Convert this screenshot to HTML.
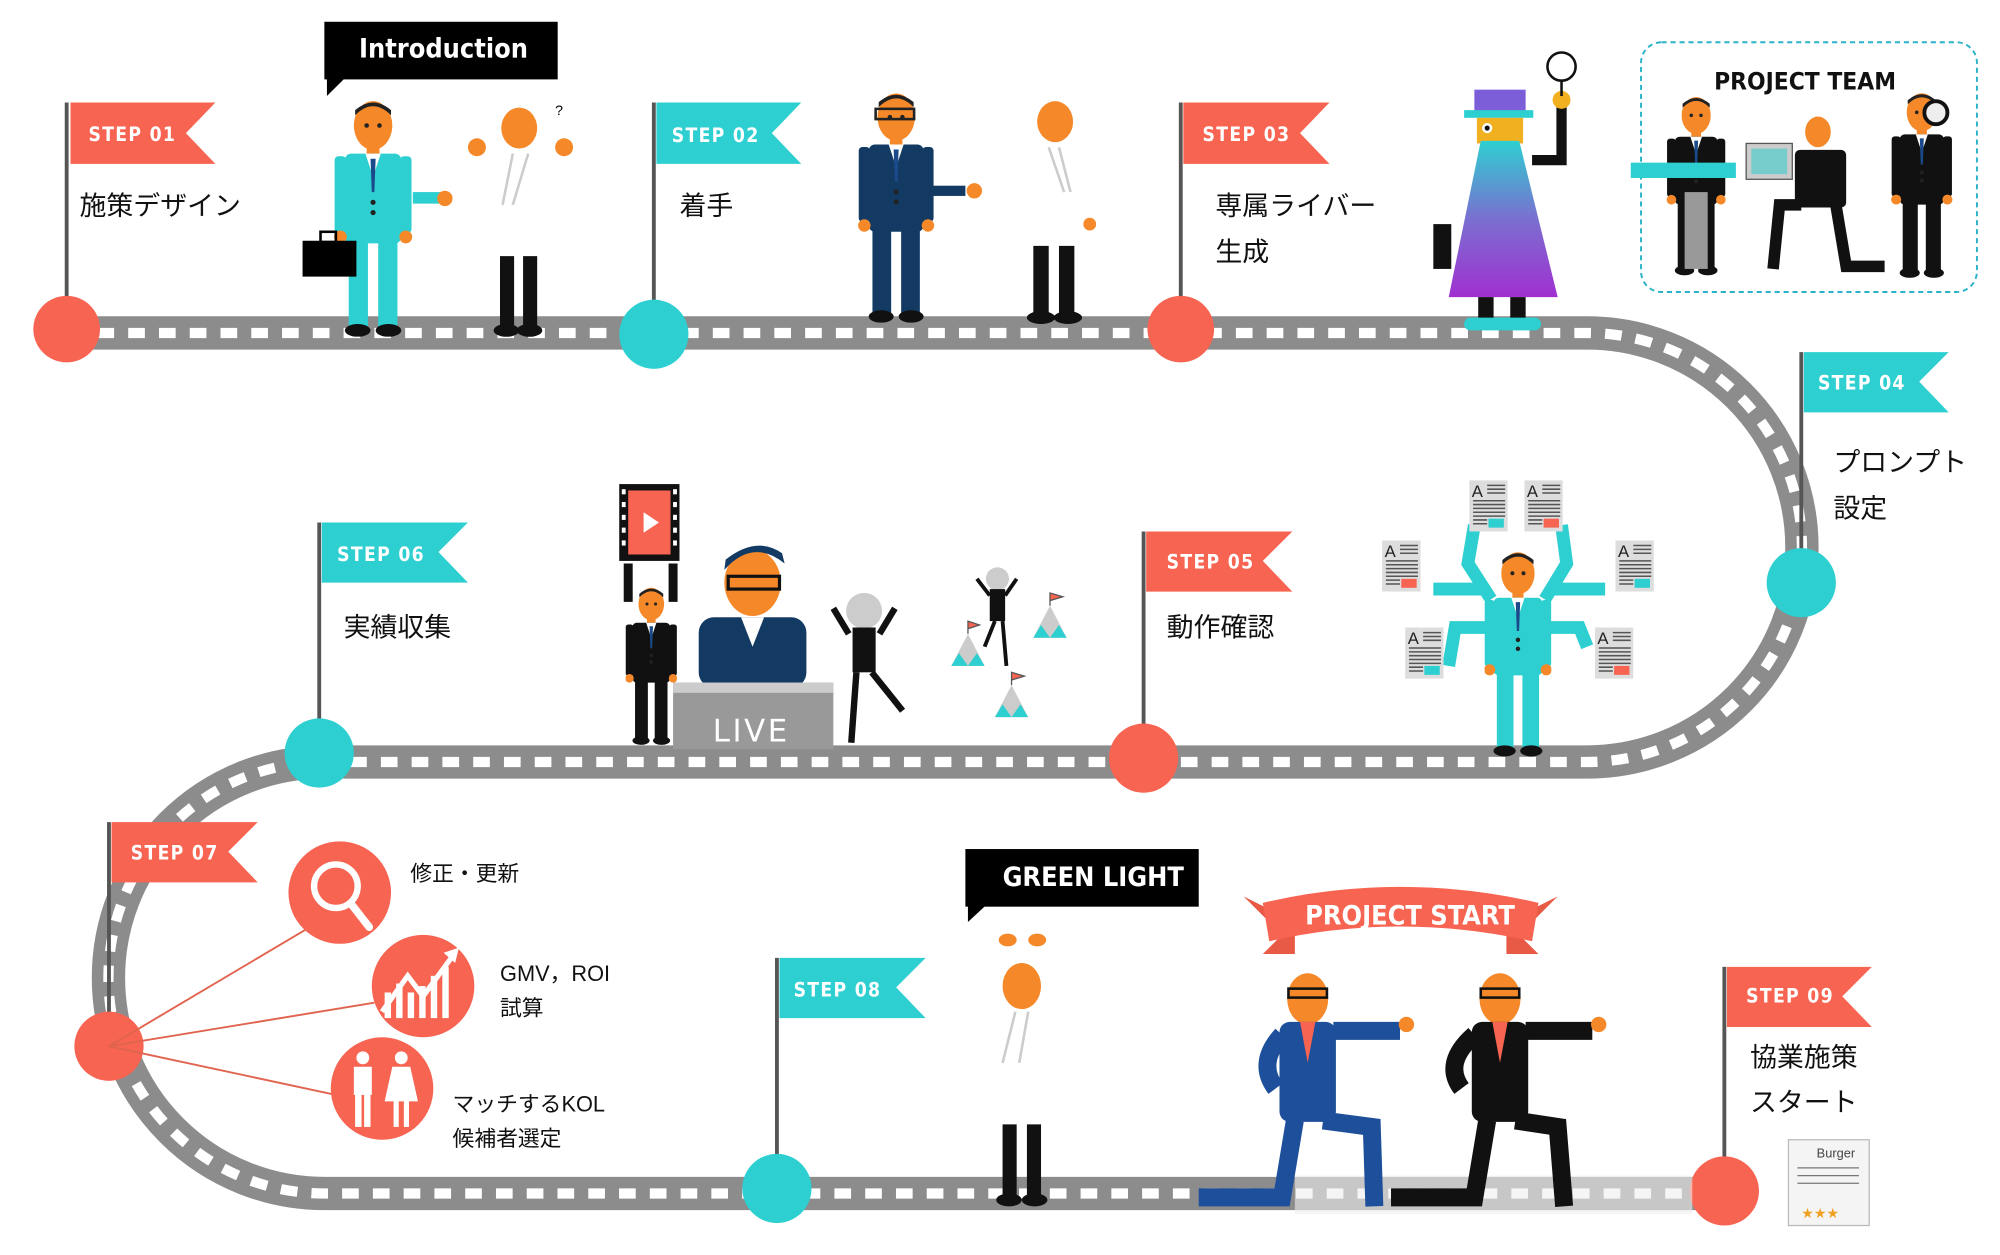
<!DOCTYPE html>
<html><head><meta charset="utf-8">
<style>
html,body{margin:0;padding:0;background:#fff;}
svg{display:block;}
.st{font-family:"DejaVu Sans Condensed","DejaVu Sans",sans-serif;font-weight:bold;font-size:15px;fill:#fff;letter-spacing:1px;}
.jp{font-family:"Liberation Sans","Noto Sans CJK JP",sans-serif;font-size:21px;fill:#111;}
.js{font-family:"Liberation Sans","Noto Sans CJK JP",sans-serif;font-size:17px;fill:#111;}
.bb{font-family:"DejaVu Sans Condensed","DejaVu Sans",sans-serif;font-weight:bold;font-size:21px;fill:#fff;}
</style></head>
<body>
<svg width="2000" height="1255" viewBox="0 0 1560 980" preserveAspectRatio="none" xmlns="http://www.w3.org/2000/svg">
<defs>
<linearGradient id="cape" x1="0" y1="0" x2="0" y2="1"><stop offset="0" stop-color="#2ecfd1"/><stop offset="0.5" stop-color="#7a6fd0"/><stop offset="1" stop-color="#a030d0"/></linearGradient>
<symbol id="p" viewBox="0 0 60 185">
<rect x="25" y="34" width="10" height="10" fill="#f5892a"/>
<ellipse cx="30" cy="20" rx="15" ry="19" fill="#f5892a"/>
<path d="M16 12 Q30 -2 44 12 L44 8 Q30 -4 16 8Z" fill="#222"/>
<circle cx="25" cy="20" r="1.8" fill="#222"/><circle cx="35" cy="20" r="1.8" fill="#222"/>
<rect x="8" y="42" width="44" height="70" rx="5" fill="currentColor"/>
<path d="M24 42 L30 60 L36 42Z" fill="#fff"/>
<path d="M28 46 L32 46 L31 72 L29 72Z" fill="#1b4a8a"/>
<circle cx="30" cy="80" r="2" fill="#222"/><circle cx="30" cy="88" r="2" fill="#222"/>
<rect x="0" y="44" width="9" height="60" rx="3" fill="currentColor"/>
<rect x="51" y="44" width="9" height="60" rx="3" fill="currentColor"/>
<circle cx="4.5" cy="107" r="5" fill="#f5892a"/><circle cx="55.5" cy="107" r="5" fill="#f5892a"/>
<rect x="11" y="108" width="15" height="70" fill="currentColor"/>
<rect x="34" y="108" width="15" height="70" fill="currentColor"/>
<ellipse cx="18" cy="180" rx="10" ry="5" fill="#111"/><ellipse cx="42" cy="180" rx="10" ry="5" fill="#111"/>
</symbol>
<symbol id="doc" viewBox="0 0 30 40">
<rect width="30" height="40" fill="#ddd"/><text x="2" y="13" font-family="Liberation Sans" font-size="13" fill="#222">A</text>
<g stroke="#555" stroke-width="1.2"><path d="M14 4H28M14 7H28M14 10H28M3 16H28M3 19H28M3 22H28M3 25H28M3 28H28M3 31H14M3 34H14"/></g>
<rect x="15" y="30" width="12" height="7" fill="#2ecfd1"/>
</symbol>
<symbol id="docr" viewBox="0 0 30 40">
<rect width="30" height="40" fill="#ddd"/><text x="2" y="13" font-family="Liberation Sans" font-size="13" fill="#222">A</text>
<g stroke="#555" stroke-width="1.2"><path d="M14 4H28M14 7H28M14 10H28M3 16H28M3 19H28M3 22H28M3 25H28M3 28H28M3 31H14M3 34H14"/></g>
<rect x="15" y="30" width="12" height="7" fill="#f76451"/>
</symbol>
</defs>

<!-- road -->
<path d="M52 260 H1238 A167.5 167.5 0 0 1 1238 595 H253 A168.5 168.5 0 0 0 253 932 H1345" fill="none" stroke="#8c8c8c" stroke-width="26"/>
<path d="M52 260 H1238 A167.5 167.5 0 0 1 1238 595 H253 A168.5 168.5 0 0 0 253 932 H1345" fill="none" stroke="#fff" stroke-width="8" stroke-dasharray="13 11"/>

<!-- flags -->
<g stroke="#555" stroke-width="3">
<line x1="52" y1="80" x2="52" y2="257"/><line x1="510" y1="80" x2="510" y2="261"/>
<line x1="921" y1="80" x2="921" y2="257"/><line x1="1405" y1="275" x2="1405" y2="455"/>
<line x1="892" y1="415" x2="892" y2="592"/><line x1="249" y1="408" x2="249" y2="588"/>
<line x1="85" y1="642" x2="85" y2="817"/><line x1="606" y1="748" x2="606" y2="928"/>
<line x1="1345" y1="755" x2="1345" y2="930"/>
</g>
<g>
<path d="M55 80H168L145 104L168 128H55Z" fill="#f76451"/><text class="st" x="69" y="110">STEP 01</text>
<path d="M512 80H625L602 104L625 128H512Z" fill="#2ecfd1"/><text class="st" x="524" y="111">STEP 02</text>
<path d="M923 80H1037L1014 104L1037 128H923Z" fill="#f76451"/><text class="st" x="938" y="110">STEP 03</text>
<path d="M1407 275H1520L1497 298L1520 322H1407Z" fill="#2ecfd1"/><text class="st" x="1418" y="304">STEP 04</text>
<path d="M894 415H1008L985 438L1008 462H894Z" fill="#f76451"/><text class="st" x="910" y="444">STEP 05</text>
<path d="M251 408H365L342 431L365 455H251Z" fill="#2ecfd1"/><text class="st" x="263" y="438">STEP 06</text>
<path d="M87 642H201L178 665L201 689H87Z" fill="#f76451"/><text class="st" x="102" y="671">STEP 07</text>
<path d="M608 748H722L699 771L722 795H608Z" fill="#2ecfd1"/><text class="st" x="619" y="778">STEP 08</text>
<path d="M1347 755H1460L1437 778L1460 802H1347Z" fill="#f76451"/><text class="st" x="1362" y="783">STEP 09</text>
</g>

<!-- nodes -->
<circle cx="52" cy="257" r="26" fill="#f76451"/>
<circle cx="510" cy="261" r="27" fill="#2ecfd1"/>
<circle cx="921" cy="257" r="26" fill="#f76451"/>
<circle cx="1405" cy="455" r="27" fill="#2ecfd1"/>
<circle cx="892" cy="592" r="27" fill="#f76451"/>
<circle cx="249" cy="588" r="27" fill="#2ecfd1"/>
<circle cx="85" cy="817" r="27" fill="#f76451"/>
<circle cx="606" cy="928" r="27" fill="#2ecfd1"/>
<circle cx="1345" cy="930" r="27" fill="#f76451"/>

<!-- labels -->
<text class="jp" x="62" y="168">施策デザイン</text>
<text class="jp" x="530" y="168">着手</text>
<text class="jp" x="948" y="168">専属ライバー</text><text class="jp" x="948" y="204">生成</text>
<text class="jp" x="1430" y="368">プロンプト</text><text class="jp" x="1430" y="404">設定</text>
<text class="jp" x="910" y="497">動作確認</text>
<text class="jp" x="268" y="497">実績収集</text>
<text class="jp" x="1365" y="833">協業施策</text><text class="jp" x="1365" y="868">スタート</text>

<!-- step7 branches -->
<g stroke="#e0644f" stroke-width="1.5"><line x1="85" y1="817" x2="240" y2="725"/><line x1="85" y1="817" x2="292" y2="783"/><line x1="85" y1="817" x2="262" y2="855"/></g>
<circle cx="265" cy="697" r="40" fill="#f76451"/>
<circle cx="262" cy="692" r="17" fill="none" stroke="#fff" stroke-width="5"/><line x1="274" y1="706" x2="288" y2="724" stroke="#fff" stroke-width="6" stroke-linecap="round"/>
<circle cx="330" cy="770" r="40" fill="#f76451"/>
<g fill="#fff"><rect x="300" y="775" width="5" height="20"/><rect x="309" y="768" width="5" height="27"/><rect x="318" y="775" width="5" height="20"/><rect x="327" y="770" width="5" height="25"/><rect x="336" y="762" width="5" height="33"/><rect x="345" y="755" width="5" height="40"/></g>
<path d="M298 790 L318 762 L330 778 L352 748" fill="none" stroke="#fff" stroke-width="4"/><path d="M346 744 L358 740 L355 752Z" fill="#fff"/>
<circle cx="298" cy="850" r="40" fill="#f76451"/>
<g fill="#fff"><circle cx="283" cy="826" r="5"/><rect x="276" y="833" width="14" height="22"/><rect x="277" y="852" width="5" height="28"/><rect x="284" y="852" width="5" height="28"/>
<circle cx="313" cy="826" r="5"/><path d="M306 833H320L326 860H300Z"/><rect x="307" y="858" width="4" height="22"/><rect x="315" y="858" width="4" height="22"/></g>
<text class="js" x="320" y="688">修正・更新</text>
<text class="js" x="390" y="766">GMV，ROI</text><text class="js" x="390" y="793">試算</text>
<text class="js" x="353" y="868">マッチするKOL</text><text class="js" x="353" y="895">候補者選定</text>

<!-- Introduction bubble -->
<rect x="253" y="17" width="182" height="45" fill="#000"/><path d="M255 60 L255 75 L270 60Z" fill="#000"/>
<text class="bb" x="280" y="45">Introduction</text>
<!-- GREEN LIGHT -->
<rect x="753" y="663" width="182" height="45" fill="#000"/><path d="M755 706 L755 720 L770 706Z" fill="#000"/>
<text class="bb" x="782" y="692">GREEN LIGHT</text>

<!-- people row 1 -->
<use href="#p" x="258" y="78" width="66" height="185" style="color:#2ecfd1"/>
<rect x="322" y="150" width="25" height="9" fill="#2ecfd1"/><circle cx="347" cy="155" r="6" fill="#f5892a"/>
<rect x="236" y="188" width="42" height="28" fill="#000"/><rect x="250" y="181" width="12" height="8" fill="none" stroke="#000" stroke-width="2"/>
<!-- white fig 1 -->
<ellipse cx="405" cy="100" rx="14" ry="16" fill="#f5892a"/><circle cx="372" cy="115" r="7" fill="#f5892a"/><circle cx="440" cy="115" r="7" fill="#f5892a"/>
<text x="433" y="90" font-family="Liberation Sans" font-size="11">?</text>
<path d="M400 120 L392 160 M412 120 L400 160" stroke="#ccc" stroke-width="2"/>
<rect x="390" y="200" width="11" height="58" fill="#111"/><rect x="408" y="200" width="11" height="58" fill="#111"/>
<ellipse cx="395" cy="258" rx="10" ry="5" fill="#111"/><ellipse cx="413" cy="258" rx="10" ry="5" fill="#111"/>
<!-- navy man -->
<use href="#p" x="668" y="72" width="62" height="180" style="color:#123a63"/>
<rect x="725" y="145" width="28" height="8" fill="#123a63"/><circle cx="760" cy="149" r="6" fill="#f5892a"/>
<rect x="683" y="85" width="30" height="8" fill="none" stroke="#222" stroke-width="2"/>
<!-- white fig 2 -->
<ellipse cx="823" cy="95" rx="14" ry="16" fill="#f5892a"/><path d="M818 115 L830 150 M826 115 L835 150" stroke="#ccc" stroke-width="2"/>
<circle cx="850" cy="175" r="5" fill="#f5892a"/>
<rect x="806" y="192" width="12" height="55" fill="#111"/><rect x="826" y="192" width="12" height="55" fill="#111"/>
<ellipse cx="812" cy="248" rx="11" ry="5" fill="#111"/><ellipse cx="833" cy="248" rx="11" ry="5" fill="#111"/>

<!-- detective -->
<rect x="1150" y="70" width="40" height="18" fill="#7c5fd8"/><rect x="1142" y="86" width="54" height="6" fill="#2ecfd1"/>
<rect x="1152" y="92" width="36" height="20" fill="#f0b020"/><circle cx="1160" cy="100" r="4" fill="#fff"/><circle cx="1160" cy="100" r="2" fill="#111"/>
<path d="M1155 110 H1185 L1215 232 H1130Z" fill="url(#cape)"/>
<rect x="1118" y="175" width="14" height="35" fill="#111"/>
<path d="M1195 125 L1218 125 L1218 80" fill="none" stroke="#111" stroke-width="8"/>
<circle cx="1218" cy="78" r="7" fill="#f0b020"/>
<circle cx="1218" cy="52" r="11" fill="#fff" stroke="#111" stroke-width="2"/><line x1="1218" y1="63" x2="1218" y2="75" stroke="#111" stroke-width="2"/>
<rect x="1153" y="232" width="12" height="18" fill="#111"/><rect x="1178" y="232" width="12" height="18" fill="#111"/>
<rect x="1142" y="248" width="60" height="10" rx="5" fill="#2ecfd1"/>

<!-- project team -->
<rect x="1280" y="33" width="262" height="195" rx="16" fill="none" stroke="#2ab3c8" stroke-width="1.5" stroke-dasharray="4 3"/>
<text x="1337" y="70" font-family="DejaVu Sans Condensed,DejaVu Sans,sans-serif" font-weight="bold" font-size="19" fill="#111">PROJECT TEAM</text>
<use href="#p" x="1300" y="75" width="46" height="140" style="color:#111"/>
<rect x="1314" y="150" width="18" height="60" fill="#999"/>
<rect x="1272" y="127" width="82" height="12" fill="#2ecfd1"/>
<rect x="1362" y="112" width="36" height="28" fill="#ccc" stroke="#555"/><rect x="1366" y="116" width="28" height="20" fill="#7cc"/>
<ellipse cx="1418" cy="103" rx="10" ry="12" fill="#f5892a"/>
<rect x="1400" y="117" width="40" height="45" rx="4" fill="#111"/>
<path d="M1405 160 L1388 160 L1383 210 M1432 160 L1440 208 L1470 208" fill="none" stroke="#111" stroke-width="9"/>
<use href="#p" x="1475" y="72" width="48" height="145" style="color:#111"/>
<circle cx="1510" cy="88" r="9" fill="#eee" stroke="#111" stroke-width="3"/>

<!-- multi-armed man -->
<use href="#p" x="1158" y="418" width="52" height="185" style="color:#2ecfd1"/>
<g stroke="#2ecfd1" stroke-width="10" fill="none">
<path d="M1163 468 L1145 440 L1150 410"/><path d="M1205 468 L1222 440 L1218 410"/>
<path d="M1160 460 H1118"/><path d="M1208 460 H1252"/>
<path d="M1160 490 H1135 L1130 520"/><path d="M1208 490 H1232 L1238 505"/>
</g>
<use href="#doc" x="1146" y="375" width="30" height="40"/><use href="#docr" x="1189" y="375" width="30" height="40"/>
<use href="#docr" x="1078" y="422" width="30" height="40"/><use href="#doc" x="1260" y="422" width="30" height="40"/>
<use href="#doc" x="1096" y="490" width="30" height="40"/><use href="#docr" x="1244" y="490" width="30" height="40"/>

<!-- live scene -->
<rect x="483" y="378" width="47" height="60" fill="#111"/><rect x="490" y="383" width="33" height="50" fill="#f76451"/>
<g fill="#fff"><rect x="485" y="382" width="3" height="4"/><rect x="485" y="392" width="3" height="4"/><rect x="485" y="402" width="3" height="4"/><rect x="485" y="412" width="3" height="4"/><rect x="485" y="422" width="3" height="4"/><rect x="525" y="382" width="3" height="4"/><rect x="525" y="392" width="3" height="4"/><rect x="525" y="402" width="3" height="4"/><rect x="525" y="412" width="3" height="4"/><rect x="525" y="422" width="3" height="4"/></g>
<path d="M502 400 L514 408 L502 416Z" fill="#fff"/>
<path d="M490 440 V470 M525 440 V470" stroke="#111" stroke-width="7"/>
<use href="#p" x="488" y="455" width="40" height="130" style="color:#111"/>
<ellipse cx="587" cy="455" rx="22" ry="26" fill="#f5892a"/><path d="M565 445 Q587 420 612 440 L610 432 Q590 418 566 437Z" fill="#123a63"/>
<rect x="568" y="450" width="40" height="10" fill="none" stroke="#111" stroke-width="2.5"/>
<rect x="545" y="482" width="84" height="55" rx="12" fill="#123a63"/><path d="M578 482 L587 505 L596 482Z" fill="#fff"/>
<rect x="525" y="533" width="125" height="52" fill="#999"/><rect x="525" y="533" width="125" height="8" fill="#ccc"/>
<text x="556" y="579" font-family="DejaVu Sans,sans-serif" font-size="24" fill="#fff" letter-spacing="2">LIVE</text>
<!-- bears -->
<circle cx="674" cy="477" r="14" fill="#ccc"/><rect x="665" y="490" width="18" height="35" fill="#111"/>
<path d="M662 495 L650 475 M686 495 L698 475 M668 525 L664 580 M680 525 L704 555" stroke="#111" stroke-width="5" fill="none"/>
<circle cx="778" cy="452" r="9" fill="#ccc"/><rect x="772" y="460" width="12" height="25" fill="#111"/>
<path d="M772 465 L762 452 M784 465 L793 452 M776 485 L768 505 M782 485 L785 520" stroke="#111" stroke-width="3" fill="none"/>
<path d="M742 520 L755 495 L768 520Z" fill="#ccc"/><path d="M742 520 L748 510 L755 520 L762 510 L768 520Z" fill="#2ecfd1"/><path d="M755 495 V485 L764 488 L755 491" stroke="#555" fill="#f76451"/>
<path d="M806 498 L819 473 L832 498Z" fill="#ccc"/><path d="M806 498 L812 488 L819 498 L826 488 L832 498Z" fill="#2ecfd1"/><path d="M819 473 V463 L829 466 L819 469" stroke="#555" fill="#f76451"/>
<path d="M776 560 L789 535 L802 560Z" fill="#ccc"/><path d="M776 560 L782 550 L789 560 L796 550 L802 560Z" fill="#2ecfd1"/><path d="M789 535 V525 L799 528 L789 531" stroke="#555" fill="#f76451"/>

<!-- step8 white fig -->
<ellipse cx="786" cy="734" rx="7" ry="5" fill="#f5892a"/><ellipse cx="809" cy="734" rx="7" ry="5" fill="#f5892a"/>
<ellipse cx="797" cy="770" rx="15" ry="18" fill="#f5892a"/>
<path d="M792 790 L782 830 M802 790 L795 830" stroke="#ccc" stroke-width="2"/>
<rect x="782" y="878" width="11" height="58" fill="#111"/><rect x="801" y="878" width="11" height="58" fill="#111"/>
<ellipse cx="787" cy="937" rx="10" ry="5" fill="#111"/><ellipse cx="807" cy="937" rx="10" ry="5" fill="#111"/>

<!-- PROJECT START ribbon -->
<path d="M970 700 L1000 730 L985 745 L1010 745 L1010 720Z" fill="#e85a45"/>
<path d="M1215 700 L1185 730 L1200 745 L1175 745 L1175 720Z" fill="#e85a45"/>
<path d="M985 705 Q1092 680 1200 705 L1195 735 Q1092 712 990 735Z" fill="#f76451"/>
<text x="1018" y="722" font-family="DejaVu Sans Condensed,DejaVu Sans,sans-serif" font-weight="bold" font-size="21" fill="#fff">PROJECT START</text>
<!-- kneeling men -->
<rect x="1010" y="918" width="310" height="30" fill="#eee" opacity="0.6"/>
<ellipse cx="1020" cy="780" rx="16" ry="20" fill="#f5892a"/><rect x="1005" y="772" width="30" height="7" fill="none" stroke="#111" stroke-width="2"/>
<rect x="998" y="798" width="44" height="78" rx="8" fill="#1d4f9a"/><path d="M1014 798 L1020 830 L1026 798Z" fill="#f76451"/>
<path d="M1040 805 H1092 M1000 808 Q980 830 995 850 M1010 875 L1000 935 H935 M1032 875 L1070 880 L1072 942" stroke="#1d4f9a" stroke-width="14" fill="none"/>
<circle cx="1097" cy="800" r="6" fill="#f5892a"/>
<ellipse cx="1170" cy="780" rx="16" ry="20" fill="#f5892a"/><rect x="1155" y="772" width="30" height="7" fill="none" stroke="#111" stroke-width="2"/>
<rect x="1148" y="798" width="44" height="78" rx="8" fill="#111"/><path d="M1164 798 L1170 830 L1176 798Z" fill="#f76451"/>
<path d="M1190 805 H1242 M1150 808 Q1125 830 1140 850 M1160 875 L1150 935 H1085 M1182 875 L1215 880 L1220 942" stroke="#111" stroke-width="14" fill="none"/>
<circle cx="1247" cy="800" r="6" fill="#f5892a"/>

<!-- certificate -->
<rect x="1395" y="890" width="63" height="67" fill="#f4f4f4" stroke="#bbb"/>
<text x="1417" y="904" font-family="Liberation Sans" font-size="10" fill="#444">Burger</text>
<path d="M1402 912H1450M1402 918H1450M1402 924H1450" stroke="#777"/>
<text x="1405" y="951" font-size="11" fill="#f0a020">★★★</text>
</svg>
</body></html>
